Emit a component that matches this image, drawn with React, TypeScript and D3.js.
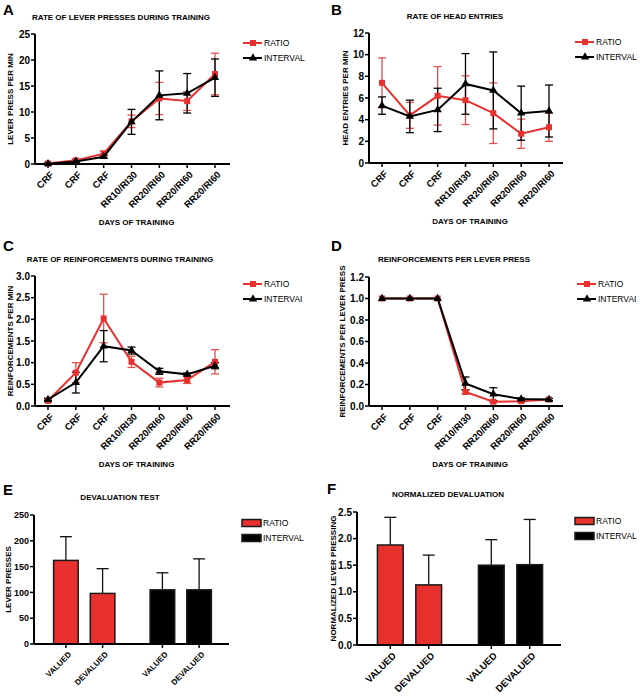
import { useEffect, useRef } from 'react';
import * as d3 from 'd3';

const days = ['CRF', 'CRF', 'CRF', 'RR10/RI30', 'RR20/RI60', 'RR20/RI60', 'RR20/RI60'];

// panel A: lever presses per min
const pressRatio = [0.1, 0.7, 2.0, 8.2, 12.6, 12.1, 17.3];
const pressRatioErr = [0.2, 0.2, 0.5, 1.2, 3.1, 1.8, 4.0];
const pressInterval = [0.05, 0.5, 1.4, 8.1, 13.2, 13.6, 16.6];
const pressIntervalErr = [0.1, 0.2, 0.3, 2.4, 4.7, 3.8, 3.6];

// panel B: head entries per min
const headRatio = [7.4, 4.4, 6.2, 5.8, 4.6, 2.7, 3.3];
const headRatioErr = [2.3, 1.2, 2.7, 2.25, 2.8, 1.35, 1.3];
const headInterval = [5.3, 4.3, 4.9, 7.3, 6.7, 4.6, 4.8];
const headIntervalErr = [0.8, 1.5, 2.0, 2.8, 3.55, 2.5, 2.4];

// panel C: reinforcements per min
const reinfRatio = [0.12, 0.77, 2.02, 1.02, 0.54, 0.6, 1.02];
const reinfRatioErr = [0.03, 0.23, 0.56, 0.13, 0.1, 0.08, 0.28];
const reinfInterval = [0.15, 0.54, 1.38, 1.28, 0.8, 0.73, 0.93];
const reinfIntervalErr = [0.03, 0.24, 0.36, 0.08, 0.07, 0.03, 0.07];

// panel D: reinforcements per lever press
const rplRatio = [1, 1, 1, 0.13, 0.04, 0.045, 0.06];
const rplRatioErr = [0, 0, 0, 0.02, 0.01, 0.01, 0.01];
const rplInterval = [1, 1, 1, 0.21, 0.11, 0.065, 0.06];
const rplIntervalErr = [0, 0, 0, 0.06, 0.06, 0.01, 0.01];

// panels E and F
const groups = ['RATIO', 'INTERVAL'];
const conditions = ['VALUED', 'DEVALUED'];
const devalMeans = [[162, 98], [105, 105]];
const devalErr = [[46, 48], [33, 60]];
const normMeans = [[1.88, 1.13], [1.5, 1.51]];
const normErr = [[0.52, 0.56], [0.48, 0.85]];

const RED = '#e8312f';
const RED_ERR = '#e4504c';
const FONT = 'Liberation Sans, Arial, sans-serif';

type Sel = d3.Selection<SVGGElement, unknown, null, undefined>;

function yAxisAndLabels(g: Sel, y: d3.ScaleLinear<number, number>, left: number, ticks: number[], fmt: (v: number) => string, label: string, labelX: number, tickSize: number) {
  g.append('line').attr('x1', left).attr('x2', left).attr('y1', y(ticks[ticks.length - 1])).attr('y2', y(0))
    .attr('stroke', '#000').attr('stroke-width', 2);
  ticks.forEach(t => {
    g.append('line').attr('x1', left - 4).attr('x2', left).attr('y1', y(t)).attr('y2', y(t))
      .attr('stroke', '#000').attr('stroke-width', 1.5);
    g.append('text').attr('x', left - 5).attr('y', y(t)).attr('dy', '0.35em').attr('text-anchor', 'end')
      .attr('font-size', tickSize).attr('font-weight', 'bold').attr('font-family', FONT).text(fmt(t));
  });
  const [y0, y1] = y.range();
  g.append('text').attr('transform', `translate(${labelX},${(y0 + y1) / 2}) rotate(-90)`)
    .attr('text-anchor', 'middle').attr('dy', '0.35em').attr('font-size', 8).attr('font-weight', 'bold')
    .attr('font-family', FONT).text(label);
}

interface LineCfg {
  letter: string; lx: number; ly: number;
  title: string; tx: number; ty: number;
  left: number; right: number; top: number; bottom: number;
  first: number; last: number;
  ymax: number; step: number; fmt: (v: number) => string;
  ylabel: string; ylx: number;
  ratio: number[]; ratioErr: number[]; interval: number[]; intervalErr: number[];
  intervalName: string; legX: number; legY: number;
}

function drawLinePanel(svg: Sel, c: LineCfg) {
  const g = svg.append('g');
  const x = d3.scalePoint<number>().domain(d3.range(days.length)).range([c.first, c.last]);
  const y = d3.scaleLinear().domain([0, c.ymax]).range([c.bottom, c.top]);
  const ticks = d3.range(0, c.ymax + c.step / 2, c.step);

  g.append('text').attr('x', c.lx).attr('y', c.ly).attr('font-size', 15).attr('font-weight', 'bold')
    .attr('font-family', FONT).text(c.letter);
  g.append('text').attr('x', c.tx).attr('y', c.ty).attr('text-anchor', 'middle').attr('font-size', 8)
    .attr('font-weight', 'bold').attr('font-family', FONT).text(c.title);

  yAxisAndLabels(g, y, c.left, ticks, c.fmt, c.ylabel, c.ylx, 10);

  g.append('line').attr('x1', c.left).attr('x2', c.right).attr('y1', c.bottom).attr('y2', c.bottom)
    .attr('stroke', '#000').attr('stroke-width', 2);
  days.forEach((d, i) => {
    g.append('line').attr('x1', x(i)!).attr('x2', x(i)!).attr('y1', c.bottom).attr('y2', c.bottom + 4)
      .attr('stroke', '#000').attr('stroke-width', 1.5);
    g.append('text').attr('transform', `translate(${x(i)! + 4},${c.bottom + 9}) rotate(-45)`)
      .attr('text-anchor', 'end').attr('dy', '0.35em').attr('font-size', 9.5).attr('font-weight', 'bold')
      .attr('font-family', FONT).text(d);
  });
  g.append('text').attr('x', (c.left + c.right) / 2 + 4).attr('y', c.bottom + 61).attr('text-anchor', 'middle')
    .attr('font-size', 8).attr('font-weight', 'bold').attr('font-family', FONT).text('DAYS OF TRAINING');

  const series = [
    { vals: c.ratio, err: c.ratioErr, color: RED, errColor: RED_ERR, shape: d3.symbolSquare },
    { vals: c.interval, err: c.intervalErr, color: '#000', errColor: '#000', shape: d3.symbolTriangle },
  ];
  const line = d3.line<number>().x((_, i) => x(i)!).y(v => y(v));
  series.forEach(s => {
    s.vals.forEach((v, i) => {
      const e = s.err[i];
      if (e <= 0) return;
      const cx = x(i)!;
      g.append('line').attr('x1', cx).attr('x2', cx).attr('y1', y(v + e)).attr('y2', y(Math.max(0, v - e)))
        .attr('stroke', s.errColor).attr('stroke-width', 1.3);
      [v + e, Math.max(0, v - e)].forEach(t => {
        g.append('line').attr('x1', cx - 4).attr('x2', cx + 4).attr('y1', y(t)).attr('y2', y(t))
          .attr('stroke', s.errColor).attr('stroke-width', 1.3);
      });
    });
  });
  series.forEach(s => {
    g.append('path').attr('d', line(s.vals)).attr('fill', 'none').attr('stroke', s.color).attr('stroke-width', 2);
    s.vals.forEach((v, i) => {
      g.append('path').attr('d', d3.symbol(s.shape, s.shape === d3.symbolSquare ? 36 : 30)())
        .attr('transform', `translate(${x(i)},${y(v)})`).attr('fill', s.color);
    });
  });

  // legend
  const names = ['RATIO', c.intervalName];
  series.forEach((s, i) => {
    const ly = c.legY + i * 15;
    g.append('line').attr('x1', c.legX).attr('x2', c.legX + 19).attr('y1', ly).attr('y2', ly)
      .attr('stroke', s.color).attr('stroke-width', 2);
    g.append('path').attr('d', d3.symbol(s.shape, s.shape === d3.symbolSquare ? 36 : 30)())
      .attr('transform', `translate(${c.legX + 10},${ly})`).attr('fill', s.color);
    g.append('text').attr('x', c.legX + 21).attr('y', ly).attr('dy', '0.35em').attr('font-size', 8.5)
      .attr('font-family', FONT).text(names[i]);
  });
}

interface BarCfg {
  letter: string; lx: number; ly: number;
  title: string; tx: number; ty: number;
  left: number; right: number; top: number; bottom: number;
  ymax: number; step: number; fmt: (v: number) => string; tickSize: number;
  ylabel: string; ylx: number; catSize: number;
  means: number[][]; err: number[][];
  legX: number; legY: number;
}

function drawBarPanel(svg: Sel, c: BarCfg) {
  const g = svg.append('g');
  const y = d3.scaleLinear().domain([0, c.ymax]).range([c.bottom, c.top]);
  const ticks = d3.range(0, c.ymax + c.step / 2, c.step);
  const outer = d3.scaleBand().domain(groups).range([c.left + 2, c.right]);
  const inner = d3.scaleBand().domain(conditions).range([0, outer.bandwidth()]).paddingInner(0.33).paddingOuter(0.48);

  g.append('text').attr('x', c.lx).attr('y', c.ly).attr('font-size', 15).attr('font-weight', 'bold')
    .attr('font-family', FONT).text(c.letter);
  g.append('text').attr('x', c.tx).attr('y', c.ty).attr('text-anchor', 'middle').attr('font-size', 8)
    .attr('font-weight', 'bold').attr('font-family', FONT).text(c.title);

  groups.forEach((grp, gi) => {
    conditions.forEach((cond, ci) => {
      const bx = outer(grp)! + inner(cond)!;
      const bw = inner.bandwidth();
      const m = c.means[gi][ci];
      const e = c.err[gi][ci];
      const cx = bx + bw / 2;
      g.append('line').attr('x1', cx).attr('x2', cx).attr('y1', y(m)).attr('y2', y(m + e))
        .attr('stroke', '#111').attr('stroke-width', 1.3);
      g.append('line').attr('x1', cx - 6).attr('x2', cx + 6).attr('y1', y(m + e)).attr('y2', y(m + e))
        .attr('stroke', '#111').attr('stroke-width', 1.3);
      g.append('rect').attr('x', bx).attr('y', y(m)).attr('width', bw).attr('height', y(0) - y(m))
        .attr('fill', gi === 0 ? RED : '#000').attr('stroke', '#1a1a1a').attr('stroke-width', 1.5);
      g.append('line').attr('x1', cx).attr('x2', cx).attr('y1', c.bottom).attr('y2', c.bottom + 4)
        .attr('stroke', '#000').attr('stroke-width', 1.5);
      g.append('text').attr('transform', `translate(${cx + 4},${c.bottom + 9}) rotate(-45)`)
        .attr('text-anchor', 'end').attr('dy', '0.35em').attr('font-size', c.catSize).attr('font-weight', 'bold')
        .attr('font-family', FONT).text(cond);
    });
  });

  yAxisAndLabels(g, y, c.left, ticks, c.fmt, c.ylabel, c.ylx, c.tickSize);
  g.append('line').attr('x1', c.left).attr('x2', c.right).attr('y1', c.bottom).attr('y2', c.bottom)
    .attr('stroke', '#000').attr('stroke-width', 2);

  groups.forEach((grp, i) => {
    const ly = c.legY + i * 15;
    g.append('rect').attr('x', c.legX).attr('y', ly - 3.5).attr('width', 19).attr('height', 7)
      .attr('fill', i === 0 ? RED : '#000').attr('stroke', '#1a1a1a').attr('stroke-width', 1.5);
    g.append('text').attr('x', c.legX + 21).attr('y', ly).attr('dy', '0.35em').attr('font-size', 8.5)
      .attr('font-family', FONT).text(grp);
  });
}

export default function App() {
  const ref = useRef<SVGSVGElement>(null);

  useEffect(() => {
    if (!ref.current) return;
    const root = d3.select(ref.current);
    root.selectAll('*').remove();
    const svg = root.append('g') as unknown as Sel;
    const f0 = d3.format('d');
    const f1 = d3.format('.1f');

    drawLinePanel(svg, {
      letter: 'A', lx: 3, ly: 15, title: 'RATE OF LEVER PRESSES DURING TRAINING', tx: 121, ty: 20,
      left: 35, right: 230, top: 34, bottom: 164, first: 48, last: 215,
      ymax: 25, step: 5, fmt: f0, ylabel: 'LEVER PRESS PER MIN', ylx: 10,
      ratio: pressRatio, ratioErr: pressRatioErr, interval: pressInterval, intervalErr: pressIntervalErr,
      intervalName: 'INTERVAL', legX: 243, legY: 43,
    });
    drawLinePanel(svg, {
      letter: 'B', lx: 331, ly: 15, title: 'RATE OF HEAD ENTRIES', tx: 455, ty: 19,
      left: 369, right: 563, top: 33, bottom: 163, first: 382, last: 549,
      ymax: 12, step: 2, fmt: f0, ylabel: 'HEAD ENTRIES PER MIN', ylx: 345,
      ratio: headRatio, ratioErr: headRatioErr, interval: headInterval, intervalErr: headIntervalErr,
      intervalName: 'INTERVAL', legX: 575, legY: 42,
    });
    drawLinePanel(svg, {
      letter: 'C', lx: 3, ly: 251, title: 'RATE OF REINFORCEMENTS DURING TRAINING', tx: 120, ty: 262,
      left: 35, right: 230, top: 276, bottom: 406, first: 48, last: 215,
      ymax: 3, step: 0.5, fmt: f1, ylabel: 'REINFORCEMENTS PER MIN', ylx: 10,
      ratio: reinfRatio, ratioErr: reinfRatioErr, interval: reinfInterval, intervalErr: reinfIntervalErr,
      intervalName: 'INTERVAI', legX: 243, legY: 284,
    });
    drawLinePanel(svg, {
      letter: 'D', lx: 331, ly: 251, title: 'REINFORCEMENTS PER LEVER PRESS', tx: 454, ty: 262,
      left: 369, right: 563, top: 277, bottom: 406, first: 382, last: 549,
      ymax: 1.2, step: 0.2, fmt: f1, ylabel: 'REINFORCEMENTS PER LEVER PRESS', ylx: 342,
      ratio: rplRatio, ratioErr: rplRatioErr, interval: rplInterval, intervalErr: rplIntervalErr,
      intervalName: 'INTERVAI', legX: 577, legY: 284,
    });
    drawBarPanel(svg, {
      letter: 'E', lx: 3, ly: 495, title: 'DEVALUATION TEST', tx: 120, ty: 500,
      left: 34, right: 229, top: 515, bottom: 644, ymax: 250, step: 50, fmt: f0, tickSize: 9,
      ylabel: 'LEVER PRESSES', ylx: 8, catSize: 8,
      means: devalMeans, err: devalErr, legX: 242, legY: 523,
    });
    drawBarPanel(svg, {
      letter: 'F', lx: 327, ly: 494, title: 'NORMALIZED DEVALUATION', tx: 448, ty: 497,
      left: 357, right: 561, top: 512, bottom: 645, ymax: 2.5, step: 0.5, fmt: f1, tickSize: 10,
      ylabel: 'NORMALIZED LEVER PRESSING', ylx: 333, catSize: 9.5,
      means: normMeans, err: normErr, legX: 575, legY: 521,
    });
  }, []);

  return (
    <svg ref={ref} width={640} height={700} viewBox="0 0 640 700"
      style={{ position: 'absolute', left: 0, top: 0, background: '#fff' }} />
  );
}
